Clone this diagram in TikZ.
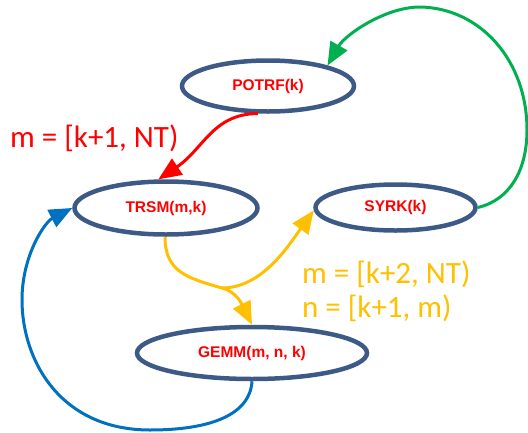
\documentclass[tikz,border=0pt]{standalone}
\usepackage{fontspec}
\setmainfont{Carlito}
\newfontfamily\taskfont{Liberation Sans}
\usetikzlibrary{
  shapes.geometric
  , arrows.meta
}

\definecolor{taskedge}{HTML}{3D5A87}
\definecolor{depred}{HTML}{FF0000}
\definecolor{depgold}{HTML}{FFC000}
\definecolor{depgreen}{HTML}{00B050}
\definecolor{depblue}{HTML}{0070C0}

\tikzset{
  task/.style={ellipse,
    draw=taskedge,
    line width=4.5pt,
    inner sep=0pt,
    text=depred,
    font=\taskfont\bfseries\fontsize{15.5}{18}\selectfont},
  dep/.style={line width=3pt,
    -{Triangle[length=23pt,width=19pt]}},
  rangelabel/.style={anchor=base west,
    inner sep=0pt,
    font=\fontsize{31}{34}\selectfont}
}

\begin{document}
\begin{tikzpicture}[x=1pt,y=-1pt]
      \useasboundingbox (0,0) rectangle (528,432);

      % tasks
      \node [task, minimum width=172pt, minimum height=51pt] (potrf) at (268,86) {POTRF(k)};
      \node [task, minimum width=183pt, minimum height=53pt] (trsm) at (166,208) {TRSM(m,k)};
      \node [task, minimum width=160pt, minimum height=46pt] (syrk) at (395.5,207.5) {SYRK(k)};
      \node [task, minimum width=230pt, minimum height=52pt] (gemm) at (252,353) {GEMM(m, n, k)};

      % iteration ranges
      \node [rangelabel, text=depred] (trsmrange) at (10,147) {m = [k+1, NT)};
      \node [rangelabel, text=depgold] (mrange) at (302,283) {m = [k+2, NT)};
      \node [rangelabel, text=depgold] (nrange) at (302,317) {n = [k+1, m)};

      % dependencies
      \draw [dep, depred] (potrf.-110) .. controls +(-45,0) and +(45,-30) .. (trsm.105);

      \coordinate (fork) at (222,288);
      \draw [dep, depgold] (trsm.-92) .. controls +(0,35) and +(-35,-10) .. (fork)
        .. controls +(15,4) and +(-10,-20) .. (gemm.north);
      \draw [dep, depgold] (fork) .. controls +(40,0) and +(-25,35) .. (syrk.182);

      \draw [dep, depblue] (gemm.south) .. controls (250,415) and (210,430) .. (150,430)
        .. controls (60,430) and (22,360) .. (22,300)
        .. controls (22,255) and (45,222) .. (trsm.west);

      \draw [dep, depgreen] (syrk.east) .. controls (510,200) and (527,170) .. (527,130)
        .. controls (527,60) and (480,8) .. (420,7)
        .. controls (385,7) and (345,35) .. (potrf.19);
    \end{tikzpicture}
\end{document}
